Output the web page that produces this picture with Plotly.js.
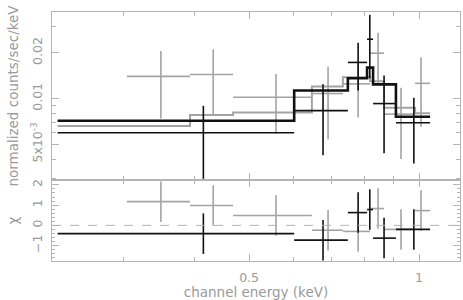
<!DOCTYPE html>
<html>
<head>
<meta charset="utf-8">
<script src="https://cdn.plot.ly/plotly-3.0.1.min.js"></script>
<style>
  html, body { margin: 0; padding: 0; background: #fff; }
  #chart { width: 463px; height: 300px; }
</style>
</head>
<body>
<div id="chart"></div>
<script>
// dark spectrum: bin edges (keV), plotted energy, rate, 1-sigma error, model, chi
const darkLo = [0.229, 0.601, 0.748, 0.809, 0.829, 0.910];
const darkHi = [0.601, 0.748, 0.809, 0.829, 0.910, 1.046];
const darkE = [0.415, 0.676, 0.780, 0.818, 0.867, 0.979];
const darkRate = [0.00596, 0.00833, 0.0173, 0.0246, 0.00927, 0.00694];
const darkErr = [0.0030, 0.0041, 0.0060, 0.0110, 0.0049, 0.0032];
const darkModel = [0.00715, 0.0113, 0.0136, 0.0160, 0.0124, 0.0076];
const darkChi = [-0.41, -0.73, 0.63, 0.78, -0.63, -0.20];

// grey spectrum
const greyLo = [0.304, 0.393, 0.4685, 0.646, 0.733, 0.819, 0.867, 0.984];
const greyHi = [0.393, 0.4685, 0.646, 0.733, 0.819, 0.867, 0.984, 1.046];
const greyE = [0.349, 0.432, 0.558, 0.690, 0.780, 0.846, 0.929, 1.008];
const greyRate = [0.0140, 0.0144, 0.0102, 0.0108, 0.0125, 0.0199, 0.0079, 0.0126];
const greyErr = [0.0066, 0.0067, 0.0043, 0.0054, 0.0050, 0.0072, 0.0039, 0.0061];
const greyChi = [1.17, 0.98, 0.49, -0.24, -0.30, 0.83, -0.20, 0.73];
const greyModelEdges = [0.229, 0.393, 0.4685, 0.646, 0.733, 0.819, 0.867, 0.984, 1.046];
const greyModel = [0.0066, 0.0078, 0.0081, 0.0120, 0.0138, 0.0130, 0.0087, 0.0080];

const DARK = '#111111';
const GREY = '#a3a3a3';
const AXIS = '#b4b4b4';
const TEXT = '#9a9a9a';

function stepTrace(edges, vals, color, width, xa, ya) {
    return {
        x: edges,
        y: vals.concat([vals[vals.length - 1]]),
        xaxis: xa, yaxis: ya,
        type: 'scatter', mode: 'lines',
        line: { shape: 'hv', color: color, width: width },
        hoverinfo: 'skip'
    };
}

function crossTrace(E, lo, hi, y, yerr, color, width, xa, ya) {
    return {
        x: E, y: y,
        xaxis: xa, yaxis: ya,
        type: 'scatter', mode: 'markers',
        marker: { size: 0.1, color: color },
        error_x: {
            type: 'data', symmetric: false,
            array: hi.map((h, i) => h - E[i]),
            arrayminus: lo.map((l, i) => E[i] - l),
            color: color, thickness: width, width: 0
        },
        error_y: {
            type: 'data', array: yerr,
            color: color, thickness: width, width: 0
        },
        hoverinfo: 'skip'
    };
}

const ones = (n) => Array.from({length: n}, () => 1);

const data = [
    // top panel
    stepTrace(greyModelEdges, greyModel, GREY, 2, 'x2', 'y2'),
    crossTrace(greyE, greyLo, greyHi, greyRate, greyErr, GREY, 1.6, 'x2', 'y2'),
    stepTrace(darkLo.concat([darkHi[darkHi.length - 1]]), darkModel, DARK, 2.6, 'x2', 'y2'),
    crossTrace(darkE, darkLo, darkHi, darkRate, darkErr, DARK, 1.6, 'x2', 'y2'),
    // residual panel
    crossTrace(greyE, greyLo, greyHi, greyChi, ones(greyChi.length), GREY, 1.6, 'x', 'y'),
    crossTrace(darkE, darkLo, darkHi, darkChi, ones(darkChi.length), DARK, 1.6, 'x', 'y')
];

const tickFont = { family: 'DejaVu Sans, sans-serif', size: 12.5, color: TEXT };
const titleFont = { family: 'DejaVu Sans, sans-serif', size: 13.5, color: TEXT };

const xCommon = {
    type: 'log',
    range: [-0.650, 0.0725],
    showgrid: false, zeroline: false,
    showline: true, linecolor: AXIS, linewidth: 1.2,
    mirror: 'allticks',
    ticks: 'inside', ticklen: 7, tickwidth: 1, tickcolor: AXIS,
    tickmode: 'array', tickvals: [0.5, 1], ticktext: ['0.5', '1'],
    minor: { tickmode: 'array', tickvals: [0.3, 0.4, 0.6, 0.7, 0.8, 0.9], ticklen: 4, tickcolor: AXIS, ticks: 'inside' },
    tickfont: tickFont
};

const layout = {
    width: 463, height: 300,
    margin: { l: 52, r: 3, t: 12, b: 39 },
    paper_bgcolor: '#fff', plot_bgcolor: '#fff',
    showlegend: false,
    xaxis: Object.assign({}, xCommon, {
        anchor: 'y',
        ticklabelstandoff: 5,
        title: { text: 'channel energy (keV)', font: titleFont, standoff: 4 }
    }),
    xaxis2: Object.assign({}, xCommon, {
        anchor: 'y2', matches: 'x', showticklabels: false
    }),
    yaxis: {
        domain: [0, 0.3253], anchor: 'x',
        range: [-1.76, 2.24],
        showgrid: false, zeroline: false,
        showline: true, linecolor: AXIS, linewidth: 1.2,
        mirror: 'allticks',
        ticks: 'inside', ticklen: 7, tickwidth: 1, tickcolor: AXIS,
        tickmode: 'array', tickvals: [-1, 0, 1, 2], ticktext: ['\u22121', '0', '1', '2'],
        tickangle: -90,
        minor: { dtick: 0.2, ticklen: 3, tickcolor: AXIS, ticks: 'inside' },
        tickfont: tickFont,
        ticklabelstandoff: 4,
        title: { text: '\u03c7', font: titleFont, standoff: 8 }
    },
    yaxis2: {
        domain: [0.3253, 1], anchor: 'x2',
        type: 'log',
        range: [-2.536, -1.430],
        showgrid: false, zeroline: false,
        showline: true, linecolor: AXIS, linewidth: 1.2,
        mirror: 'allticks',
        ticks: 'inside', ticklen: 7, tickwidth: 1, tickcolor: AXIS,
        tickmode: 'array', tickvals: [0.005, 0.01, 0.02],
        ticktext: ['5x10<sup>-3</sup>', '0.01', '0.02'],
        tickangle: -90,
        minor: { tickmode: 'array', tickvals: [0.003, 0.004, 0.006, 0.007, 0.008, 0.009, 0.03], ticklen: 4, tickcolor: AXIS, ticks: 'inside' },
        tickfont: tickFont,
        ticklabelstandoff: 4,
        title: { text: 'normalized counts/sec/keV', font: titleFont, standoff: 6 }
    },
    shapes: [{
        type: 'line', xref: 'x domain', yref: 'y',
        x0: 0, x1: 1, y0: 0, y1: 0,
        line: { color: AXIS, width: 1, dash: 'dash' }
    }]
};

Plotly.newPlot('chart', data, layout, { displayModeBar: false, staticPlot: true });
</script>
</body>
</html>
